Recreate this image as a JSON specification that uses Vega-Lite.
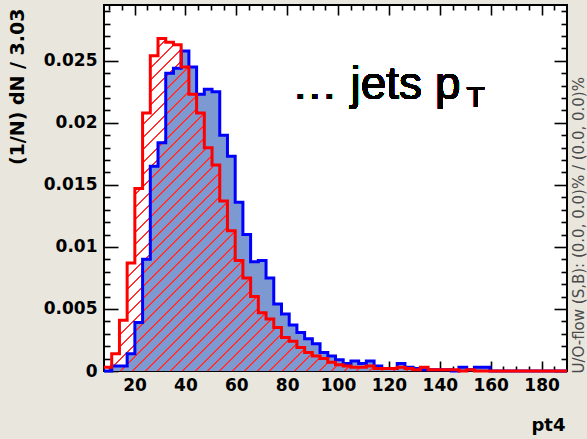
{
  "$schema": "https://vega.github.io/schema/vega-lite/v6.json",
  "width": 463,
  "height": 366,
  "autosize": {"type": "none"},
  "padding": {"left": 104, "top": 5, "right": 20, "bottom": 68},
  "background": "#e8e6dd",
  "config": {
    "view": {"fill": "white", "stroke": "black", "strokeWidth": 2},
    "axis": {
      "grid": false,
      "domain": false,
      "tickColor": "black",
      "tickWidth": 1.6,
      "zindex": 1,
      "labelFont": "DejaVu Sans",
      "labelFontWeight": "bold",
      "labelFontSize": 17,
      "labelColor": "black",
      "titleFont": "DejaVu Sans",
      "titleFontWeight": "bold",
      "titleColor": "black"
    }
  },
  "data": {
    "values": [
      {"x": 8, "s": 0, "b": 0.0003},
      {"x": 11.03, "s": 0.0004, "b": 0.0014},
      {"x": 14.07, "s": 0.0004, "b": 0.0041},
      {"x": 17.1, "s": 0.0014, "b": 0.0087},
      {"x": 20.13, "s": 0.0039, "b": 0.0147},
      {"x": 23.17, "s": 0.009, "b": 0.0208},
      {"x": 26.2, "s": 0.0165, "b": 0.0254},
      {"x": 29.23, "s": 0.0184, "b": 0.0268},
      {"x": 32.27, "s": 0.024, "b": 0.0265},
      {"x": 35.3, "s": 0.0244, "b": 0.0263},
      {"x": 38.33, "s": 0.0258, "b": 0.0245},
      {"x": 41.37, "s": 0.0245, "b": 0.0223},
      {"x": 44.4, "s": 0.0223, "b": 0.0208},
      {"x": 47.43, "s": 0.0227, "b": 0.018},
      {"x": 50.47, "s": 0.0225, "b": 0.0166},
      {"x": 53.5, "s": 0.019, "b": 0.0137},
      {"x": 56.53, "s": 0.0173, "b": 0.0113},
      {"x": 59.57, "s": 0.0136, "b": 0.0089},
      {"x": 62.6, "s": 0.011, "b": 0.0075},
      {"x": 65.63, "s": 0.0088, "b": 0.006},
      {"x": 68.67, "s": 0.0089, "b": 0.0047},
      {"x": 71.7, "s": 0.0075, "b": 0.0042},
      {"x": 74.73, "s": 0.0054, "b": 0.0035},
      {"x": 77.77, "s": 0.0046, "b": 0.0027},
      {"x": 80.8, "s": 0.0037, "b": 0.0024},
      {"x": 83.83, "s": 0.0031, "b": 0.0019},
      {"x": 86.87, "s": 0.0026, "b": 0.0015},
      {"x": 89.9, "s": 0.0022, "b": 0.0012},
      {"x": 92.93, "s": 0.0015, "b": 0.001},
      {"x": 95.97, "s": 0.0012, "b": 0.0007},
      {"x": 99, "s": 0.0009, "b": 0.0005},
      {"x": 102.03, "s": 0.0006, "b": 0.0004},
      {"x": 105.07, "s": 0.0008, "b": 0.0003},
      {"x": 108.1, "s": 0.0006, "b": 0.0003},
      {"x": 111.13, "s": 0.0008, "b": 0.0004},
      {"x": 114.17, "s": 0.0004, "b": 0.0002},
      {"x": 117.2, "s": 0.0002, "b": 0.0002},
      {"x": 120.23, "s": 0.0002, "b": 0.0002},
      {"x": 123.27, "s": 0.0006, "b": 0.0003},
      {"x": 126.3, "s": 0.0003, "b": 0.0002},
      {"x": 129.33, "s": 0.0002, "b": 0.0001},
      {"x": 132.37, "s": 0.0001, "b": 0.0003},
      {"x": 135.4, "s": 0.0001, "b": 0.0001},
      {"x": 138.43, "s": 0.0001, "b": 0.0001},
      {"x": 141.47, "s": 0.0001, "b": 0.0001},
      {"x": 144.5, "s": 0, "b": 0.0001},
      {"x": 147.53, "s": 0.0003, "b": 0},
      {"x": 150.57, "s": 0.0001, "b": 0.0001},
      {"x": 153.6, "s": 0.0003, "b": 0},
      {"x": 156.63, "s": 0.0003, "b": 0},
      {"x": 159.67, "s": 0, "b": 0},
      {"x": 162.7, "s": 0, "b": 0},
      {"x": 165.73, "s": 0, "b": 0},
      {"x": 168.77, "s": 0, "b": 0},
      {"x": 171.8, "s": 0, "b": 0},
      {"x": 174.83, "s": 0, "b": 0},
      {"x": 177.87, "s": 0, "b": 0},
      {"x": 180.9, "s": 0, "b": 0},
      {"x": 183.93, "s": 0, "b": 0},
      {"x": 186.97, "s": 0, "b": 0},
      {"x": 190, "s": 0, "b": 0}
    ]
  },
  "layer": [
    {
      "mark": {"type": "area", "interpolate": "step-after", "color": "#7d99d1", "opacity": 1},
      "encoding": {
        "x": {
          "field": "x", "type": "quantitative",
          "scale": {"domain": [8, 190], "nice": false, "zero": false},
          "axis": {
            "orient": "bottom",
            "values": [20, 40, 60, 80, 100, 120, 140, 160, 180],
            "format": "d",
            "tickSize": -10,
            "labelPadding": 16,
            "title": "pt4",
            "titleFontSize": 18,
            "titleAlign": "right",
            "titleBaseline": "alphabetic",
            "titleX": 461,
            "titleY": 59
          }
        },
        "y": {
          "field": "s", "type": "quantitative",
          "scale": {"domain": [0, 0.0295], "nice": false},
          "axis": {
            "orient": "left",
            "values": [0, 0.005, 0.01, 0.015, 0.02, 0.025],
            "format": "~g",
            "tickSize": -14,
            "labelPadding": 21,
            "title": "(1/N) dN / 3.03",
            "titleFontSize": 19,
            "titleAngle": 270,
            "titleAlign": "right",
            "titleBaseline": "middle",
            "titleX": -87,
            "titleY": 3
          }
        }
      }
    },
    {
      "mark": {
        "type": "area",
        "interpolate": "step-after",
        "fill": {
          "gradient": "linear",
          "x1": 0, "y1": 0, "x2": 1.1335, "y2": 0.8142,
          "stops": [
            {"offset": 0, "color": "rgba(255,0,0,0)"}, {"offset": 0, "color": "#ff3030"}, {"offset": 0.0025, "color": "#ff3030"}, {"offset": 0.0025, "color": "rgba(255,0,0,0)"},
            {"offset": 0.015625, "color": "rgba(255,0,0,0)"}, {"offset": 0.015625, "color": "#ff3030"}, {"offset": 0.018125, "color": "#ff3030"}, {"offset": 0.018125, "color": "rgba(255,0,0,0)"},
            {"offset": 0.03125, "color": "rgba(255,0,0,0)"}, {"offset": 0.03125, "color": "#ff3030"}, {"offset": 0.03375, "color": "#ff3030"}, {"offset": 0.03375, "color": "rgba(255,0,0,0)"},
            {"offset": 0.046875, "color": "rgba(255,0,0,0)"}, {"offset": 0.046875, "color": "#ff3030"}, {"offset": 0.049375, "color": "#ff3030"}, {"offset": 0.049375, "color": "rgba(255,0,0,0)"},
            {"offset": 0.0625, "color": "rgba(255,0,0,0)"}, {"offset": 0.0625, "color": "#ff3030"}, {"offset": 0.065, "color": "#ff3030"}, {"offset": 0.065, "color": "rgba(255,0,0,0)"},
            {"offset": 0.078125, "color": "rgba(255,0,0,0)"}, {"offset": 0.078125, "color": "#ff3030"}, {"offset": 0.080625, "color": "#ff3030"}, {"offset": 0.080625, "color": "rgba(255,0,0,0)"},
            {"offset": 0.09375, "color": "rgba(255,0,0,0)"}, {"offset": 0.09375, "color": "#ff3030"}, {"offset": 0.09625, "color": "#ff3030"}, {"offset": 0.09625, "color": "rgba(255,0,0,0)"},
            {"offset": 0.109375, "color": "rgba(255,0,0,0)"}, {"offset": 0.109375, "color": "#ff3030"}, {"offset": 0.111875, "color": "#ff3030"}, {"offset": 0.111875, "color": "rgba(255,0,0,0)"},
            {"offset": 0.125, "color": "rgba(255,0,0,0)"}, {"offset": 0.125, "color": "#ff3030"}, {"offset": 0.1275, "color": "#ff3030"}, {"offset": 0.1275, "color": "rgba(255,0,0,0)"},
            {"offset": 0.140625, "color": "rgba(255,0,0,0)"}, {"offset": 0.140625, "color": "#ff3030"}, {"offset": 0.143125, "color": "#ff3030"}, {"offset": 0.143125, "color": "rgba(255,0,0,0)"},
            {"offset": 0.15625, "color": "rgba(255,0,0,0)"}, {"offset": 0.15625, "color": "#ff3030"}, {"offset": 0.15875, "color": "#ff3030"}, {"offset": 0.15875, "color": "rgba(255,0,0,0)"},
            {"offset": 0.171875, "color": "rgba(255,0,0,0)"}, {"offset": 0.171875, "color": "#ff3030"}, {"offset": 0.174375, "color": "#ff3030"}, {"offset": 0.174375, "color": "rgba(255,0,0,0)"},
            {"offset": 0.1875, "color": "rgba(255,0,0,0)"}, {"offset": 0.1875, "color": "#ff3030"}, {"offset": 0.19, "color": "#ff3030"}, {"offset": 0.19, "color": "rgba(255,0,0,0)"},
            {"offset": 0.203125, "color": "rgba(255,0,0,0)"}, {"offset": 0.203125, "color": "#ff3030"}, {"offset": 0.205625, "color": "#ff3030"}, {"offset": 0.205625, "color": "rgba(255,0,0,0)"},
            {"offset": 0.21875, "color": "rgba(255,0,0,0)"}, {"offset": 0.21875, "color": "#ff3030"}, {"offset": 0.22125, "color": "#ff3030"}, {"offset": 0.22125, "color": "rgba(255,0,0,0)"},
            {"offset": 0.234375, "color": "rgba(255,0,0,0)"}, {"offset": 0.234375, "color": "#ff3030"}, {"offset": 0.236875, "color": "#ff3030"}, {"offset": 0.236875, "color": "rgba(255,0,0,0)"},
            {"offset": 0.25, "color": "rgba(255,0,0,0)"}, {"offset": 0.25, "color": "#ff3030"}, {"offset": 0.2525, "color": "#ff3030"}, {"offset": 0.2525, "color": "rgba(255,0,0,0)"},
            {"offset": 0.265625, "color": "rgba(255,0,0,0)"}, {"offset": 0.265625, "color": "#ff3030"}, {"offset": 0.268125, "color": "#ff3030"}, {"offset": 0.268125, "color": "rgba(255,0,0,0)"},
            {"offset": 0.28125, "color": "rgba(255,0,0,0)"}, {"offset": 0.28125, "color": "#ff3030"}, {"offset": 0.28375, "color": "#ff3030"}, {"offset": 0.28375, "color": "rgba(255,0,0,0)"},
            {"offset": 0.296875, "color": "rgba(255,0,0,0)"}, {"offset": 0.296875, "color": "#ff3030"}, {"offset": 0.299375, "color": "#ff3030"}, {"offset": 0.299375, "color": "rgba(255,0,0,0)"},
            {"offset": 0.3125, "color": "rgba(255,0,0,0)"}, {"offset": 0.3125, "color": "#ff3030"}, {"offset": 0.315, "color": "#ff3030"}, {"offset": 0.315, "color": "rgba(255,0,0,0)"},
            {"offset": 0.328125, "color": "rgba(255,0,0,0)"}, {"offset": 0.328125, "color": "#ff3030"}, {"offset": 0.330625, "color": "#ff3030"}, {"offset": 0.330625, "color": "rgba(255,0,0,0)"},
            {"offset": 0.34375, "color": "rgba(255,0,0,0)"}, {"offset": 0.34375, "color": "#ff3030"}, {"offset": 0.34625, "color": "#ff3030"}, {"offset": 0.34625, "color": "rgba(255,0,0,0)"},
            {"offset": 0.359375, "color": "rgba(255,0,0,0)"}, {"offset": 0.359375, "color": "#ff3030"}, {"offset": 0.361875, "color": "#ff3030"}, {"offset": 0.361875, "color": "rgba(255,0,0,0)"},
            {"offset": 0.375, "color": "rgba(255,0,0,0)"}, {"offset": 0.375, "color": "#ff3030"}, {"offset": 0.3775, "color": "#ff3030"}, {"offset": 0.3775, "color": "rgba(255,0,0,0)"},
            {"offset": 0.390625, "color": "rgba(255,0,0,0)"}, {"offset": 0.390625, "color": "#ff3030"}, {"offset": 0.393125, "color": "#ff3030"}, {"offset": 0.393125, "color": "rgba(255,0,0,0)"},
            {"offset": 0.40625, "color": "rgba(255,0,0,0)"}, {"offset": 0.40625, "color": "#ff3030"}, {"offset": 0.40875, "color": "#ff3030"}, {"offset": 0.40875, "color": "rgba(255,0,0,0)"},
            {"offset": 0.421875, "color": "rgba(255,0,0,0)"}, {"offset": 0.421875, "color": "#ff3030"}, {"offset": 0.424375, "color": "#ff3030"}, {"offset": 0.424375, "color": "rgba(255,0,0,0)"},
            {"offset": 0.4375, "color": "rgba(255,0,0,0)"}, {"offset": 0.4375, "color": "#ff3030"}, {"offset": 0.44, "color": "#ff3030"}, {"offset": 0.44, "color": "rgba(255,0,0,0)"},
            {"offset": 0.453125, "color": "rgba(255,0,0,0)"}, {"offset": 0.453125, "color": "#ff3030"}, {"offset": 0.455625, "color": "#ff3030"}, {"offset": 0.455625, "color": "rgba(255,0,0,0)"},
            {"offset": 0.46875, "color": "rgba(255,0,0,0)"}, {"offset": 0.46875, "color": "#ff3030"}, {"offset": 0.47125, "color": "#ff3030"}, {"offset": 0.47125, "color": "rgba(255,0,0,0)"},
            {"offset": 0.484375, "color": "rgba(255,0,0,0)"}, {"offset": 0.484375, "color": "#ff3030"}, {"offset": 0.486875, "color": "#ff3030"}, {"offset": 0.486875, "color": "rgba(255,0,0,0)"},
            {"offset": 0.5, "color": "rgba(255,0,0,0)"}, {"offset": 0.5, "color": "#ff3030"}, {"offset": 0.5025, "color": "#ff3030"}, {"offset": 0.5025, "color": "rgba(255,0,0,0)"},
            {"offset": 0.515625, "color": "rgba(255,0,0,0)"}, {"offset": 0.515625, "color": "#ff3030"}, {"offset": 0.518125, "color": "#ff3030"}, {"offset": 0.518125, "color": "rgba(255,0,0,0)"},
            {"offset": 0.53125, "color": "rgba(255,0,0,0)"}, {"offset": 0.53125, "color": "#ff3030"}, {"offset": 0.53375, "color": "#ff3030"}, {"offset": 0.53375, "color": "rgba(255,0,0,0)"},
            {"offset": 0.546875, "color": "rgba(255,0,0,0)"}, {"offset": 0.546875, "color": "#ff3030"}, {"offset": 0.549375, "color": "#ff3030"}, {"offset": 0.549375, "color": "rgba(255,0,0,0)"},
            {"offset": 0.5625, "color": "rgba(255,0,0,0)"}, {"offset": 0.5625, "color": "#ff3030"}, {"offset": 0.565, "color": "#ff3030"}, {"offset": 0.565, "color": "rgba(255,0,0,0)"},
            {"offset": 0.578125, "color": "rgba(255,0,0,0)"}, {"offset": 0.578125, "color": "#ff3030"}, {"offset": 0.580625, "color": "#ff3030"}, {"offset": 0.580625, "color": "rgba(255,0,0,0)"},
            {"offset": 0.59375, "color": "rgba(255,0,0,0)"}, {"offset": 0.59375, "color": "#ff3030"}, {"offset": 0.59625, "color": "#ff3030"}, {"offset": 0.59625, "color": "rgba(255,0,0,0)"},
            {"offset": 0.609375, "color": "rgba(255,0,0,0)"}, {"offset": 0.609375, "color": "#ff3030"}, {"offset": 0.611875, "color": "#ff3030"}, {"offset": 0.611875, "color": "rgba(255,0,0,0)"},
            {"offset": 0.625, "color": "rgba(255,0,0,0)"}, {"offset": 0.625, "color": "#ff3030"}, {"offset": 0.6275, "color": "#ff3030"}, {"offset": 0.6275, "color": "rgba(255,0,0,0)"},
            {"offset": 0.640625, "color": "rgba(255,0,0,0)"}, {"offset": 0.640625, "color": "#ff3030"}, {"offset": 0.643125, "color": "#ff3030"}, {"offset": 0.643125, "color": "rgba(255,0,0,0)"},
            {"offset": 0.65625, "color": "rgba(255,0,0,0)"}, {"offset": 0.65625, "color": "#ff3030"}, {"offset": 0.65875, "color": "#ff3030"}, {"offset": 0.65875, "color": "rgba(255,0,0,0)"},
            {"offset": 0.671875, "color": "rgba(255,0,0,0)"}, {"offset": 0.671875, "color": "#ff3030"}, {"offset": 0.674375, "color": "#ff3030"}, {"offset": 0.674375, "color": "rgba(255,0,0,0)"},
            {"offset": 0.6875, "color": "rgba(255,0,0,0)"}, {"offset": 0.6875, "color": "#ff3030"}, {"offset": 0.69, "color": "#ff3030"}, {"offset": 0.69, "color": "rgba(255,0,0,0)"},
            {"offset": 0.703125, "color": "rgba(255,0,0,0)"}, {"offset": 0.703125, "color": "#ff3030"}, {"offset": 0.705625, "color": "#ff3030"}, {"offset": 0.705625, "color": "rgba(255,0,0,0)"},
            {"offset": 0.71875, "color": "rgba(255,0,0,0)"}, {"offset": 0.71875, "color": "#ff3030"}, {"offset": 0.72125, "color": "#ff3030"}, {"offset": 0.72125, "color": "rgba(255,0,0,0)"},
            {"offset": 0.734375, "color": "rgba(255,0,0,0)"}, {"offset": 0.734375, "color": "#ff3030"}, {"offset": 0.736875, "color": "#ff3030"}, {"offset": 0.736875, "color": "rgba(255,0,0,0)"},
            {"offset": 0.75, "color": "rgba(255,0,0,0)"}, {"offset": 0.75, "color": "#ff3030"}, {"offset": 0.7525, "color": "#ff3030"}, {"offset": 0.7525, "color": "rgba(255,0,0,0)"},
            {"offset": 0.765625, "color": "rgba(255,0,0,0)"}, {"offset": 0.765625, "color": "#ff3030"}, {"offset": 0.768125, "color": "#ff3030"}, {"offset": 0.768125, "color": "rgba(255,0,0,0)"},
            {"offset": 0.78125, "color": "rgba(255,0,0,0)"}, {"offset": 0.78125, "color": "#ff3030"}, {"offset": 0.78375, "color": "#ff3030"}, {"offset": 0.78375, "color": "rgba(255,0,0,0)"},
            {"offset": 0.796875, "color": "rgba(255,0,0,0)"}, {"offset": 0.796875, "color": "#ff3030"}, {"offset": 0.799375, "color": "#ff3030"}, {"offset": 0.799375, "color": "rgba(255,0,0,0)"},
            {"offset": 0.8125, "color": "rgba(255,0,0,0)"}, {"offset": 0.8125, "color": "#ff3030"}, {"offset": 0.815, "color": "#ff3030"}, {"offset": 0.815, "color": "rgba(255,0,0,0)"},
            {"offset": 0.828125, "color": "rgba(255,0,0,0)"}, {"offset": 0.828125, "color": "#ff3030"}, {"offset": 0.830625, "color": "#ff3030"}, {"offset": 0.830625, "color": "rgba(255,0,0,0)"},
            {"offset": 0.84375, "color": "rgba(255,0,0,0)"}, {"offset": 0.84375, "color": "#ff3030"}, {"offset": 0.84625, "color": "#ff3030"}, {"offset": 0.84625, "color": "rgba(255,0,0,0)"},
            {"offset": 0.859375, "color": "rgba(255,0,0,0)"}, {"offset": 0.859375, "color": "#ff3030"}, {"offset": 0.861875, "color": "#ff3030"}, {"offset": 0.861875, "color": "rgba(255,0,0,0)"},
            {"offset": 0.875, "color": "rgba(255,0,0,0)"}, {"offset": 0.875, "color": "#ff3030"}, {"offset": 0.8775, "color": "#ff3030"}, {"offset": 0.8775, "color": "rgba(255,0,0,0)"},
            {"offset": 0.890625, "color": "rgba(255,0,0,0)"}, {"offset": 0.890625, "color": "#ff3030"}, {"offset": 0.893125, "color": "#ff3030"}, {"offset": 0.893125, "color": "rgba(255,0,0,0)"},
            {"offset": 0.90625, "color": "rgba(255,0,0,0)"}, {"offset": 0.90625, "color": "#ff3030"}, {"offset": 0.90875, "color": "#ff3030"}, {"offset": 0.90875, "color": "rgba(255,0,0,0)"},
            {"offset": 0.921875, "color": "rgba(255,0,0,0)"}, {"offset": 0.921875, "color": "#ff3030"}, {"offset": 0.924375, "color": "#ff3030"}, {"offset": 0.924375, "color": "rgba(255,0,0,0)"},
            {"offset": 0.9375, "color": "rgba(255,0,0,0)"}, {"offset": 0.9375, "color": "#ff3030"}, {"offset": 0.94, "color": "#ff3030"}, {"offset": 0.94, "color": "rgba(255,0,0,0)"},
            {"offset": 0.953125, "color": "rgba(255,0,0,0)"}, {"offset": 0.953125, "color": "#ff3030"}, {"offset": 0.955625, "color": "#ff3030"}, {"offset": 0.955625, "color": "rgba(255,0,0,0)"},
            {"offset": 0.96875, "color": "rgba(255,0,0,0)"}, {"offset": 0.96875, "color": "#ff3030"}, {"offset": 0.97125, "color": "#ff3030"}, {"offset": 0.97125, "color": "rgba(255,0,0,0)"},
            {"offset": 0.984375, "color": "rgba(255,0,0,0)"}, {"offset": 0.984375, "color": "#ff3030"}, {"offset": 0.986875, "color": "#ff3030"}, {"offset": 0.986875, "color": "rgba(255,0,0,0)"},
            {"offset": 1, "color": "rgba(255,0,0,0)"}
          ]
        }
      },
      "encoding": {
        "x": {
          "field": "x", "type": "quantitative",
          "axis": {
            "orient": "bottom",
            "values": [10, 15, 25, 30, 35, 45, 50, 55, 65, 70, 75, 85, 90, 95, 105, 110, 115, 125, 130, 135, 145, 150, 155, 165, 170, 175, 185],
            "tickSize": -5, "labels": false, "title": null
          }
        },
        "y": {
          "field": "b", "type": "quantitative",
          "axis": {
            "orient": "left",
            "values": [0.001, 0.002, 0.003, 0.004, 0.006, 0.007, 0.008, 0.009, 0.011, 0.012, 0.013, 0.014, 0.016, 0.017, 0.018, 0.019, 0.021, 0.022, 0.023, 0.024, 0.026, 0.027, 0.028, 0.029],
            "tickSize": -6, "labels": false, "title": null
          }
        }
      }
    },
    {
      "mark": {"type": "line", "interpolate": "step-after", "color": "#0000ff", "strokeWidth": 3},
      "encoding": {
        "x": {
          "field": "x", "type": "quantitative",
          "axis": {
            "orient": "top",
            "values": [20, 40, 60, 80, 100, 120, 140, 160, 180],
            "tickSize": -10, "labels": false, "title": null
          }
        },
        "y": {
          "field": "s", "type": "quantitative",
          "axis": {
            "orient": "right",
            "values": [0, 0.005, 0.01, 0.015, 0.02, 0.025],
            "tickSize": -13, "labels": false,
            "title": "U/O-flow (S,B): (0.0, 0.0)% / (0.0, 0.0)%",
            "titleFont": "DejaVu Sans",
            "titleFontWeight": "normal",
            "titleFontSize": 15,
            "titleColor": "#4a4a4a",
            "titleAngle": 270,
            "titleAlign": "left",
            "titleBaseline": "alphabetic",
            "titleX": 16,
            "titleY": 368
          }
        }
      }
    },
    {
      "mark": {"type": "line", "interpolate": "step-after", "color": "#ff0000", "strokeWidth": 3},
      "encoding": {
        "x": {
          "field": "x", "type": "quantitative",
          "axis": {
            "orient": "top",
            "values": [10, 15, 25, 30, 35, 45, 50, 55, 65, 70, 75, 85, 90, 95, 105, 110, 115, 125, 130, 135, 145, 150, 155, 165, 170, 175, 185],
            "tickSize": -5, "labels": false, "title": null
          }
        },
        "y": {
          "field": "b", "type": "quantitative",
          "axis": {
            "orient": "right",
            "values": [0.001, 0.002, 0.003, 0.004, 0.006, 0.007, 0.008, 0.009, 0.011, 0.012, 0.013, 0.014, 0.016, 0.017, 0.018, 0.019, 0.021, 0.022, 0.023, 0.024, 0.026, 0.027, 0.028, 0.029],
            "tickSize": -6, "labels": false, "title": null
          }
        }
      }
    },
    {
      "mark": {"type": "text", "text": "… jets p", "font": "Liberation Sans", "fontSize": 46, "align": "left", "baseline": "alphabetic", "color": "black"},
      "encoding": {
        "x": {"datum": 81.8, "type": "quantitative", "axis": null},
        "y": {"datum": 0.0219, "type": "quantitative", "axis": null}
      }
    },
    {
      "mark": {"type": "text", "text": "T", "font": "Liberation Sans", "fontSize": 30, "align": "left", "baseline": "alphabetic", "color": "black"},
      "encoding": {
        "x": {"datum": 150.5, "type": "quantitative", "axis": null},
        "y": {"datum": 0.02127, "type": "quantitative", "axis": null}
      }
    }
  ],
  "resolve": {"axis": {"x": "independent", "y": "independent"}}
}
